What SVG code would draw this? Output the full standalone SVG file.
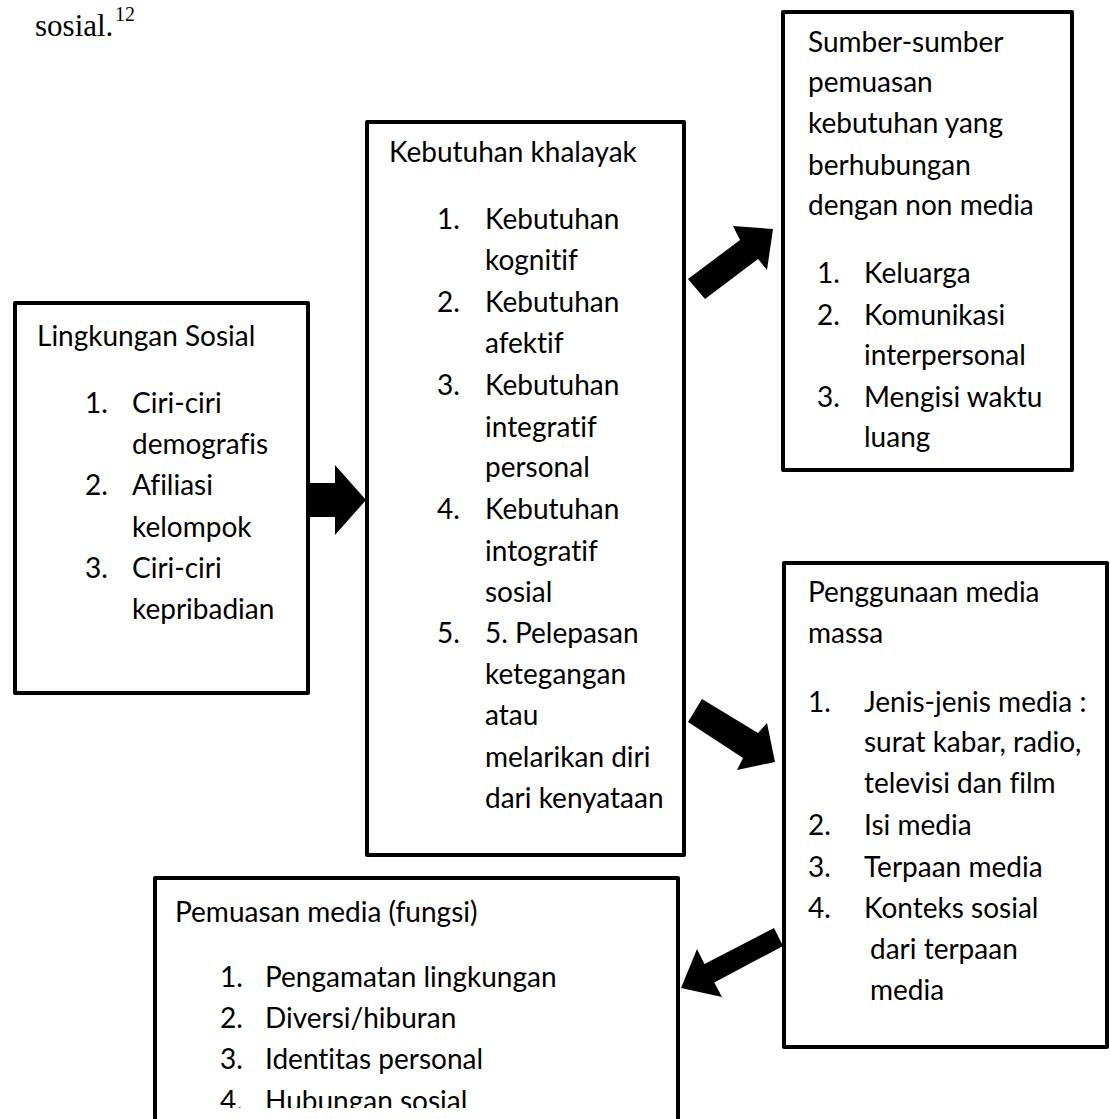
<svg xmlns="http://www.w3.org/2000/svg" width="1110" height="1119" viewBox="0 0 1110 1119">
<style>
.box{fill:#fff;stroke:#000;stroke-width:4;stroke-linejoin:round}
.t{font-family:Lato,"Open Sans","Liberation Sans",sans-serif;font-size:28px;fill:#000;font-variant-ligatures:none;font-feature-settings:"liga" 0,"dlig" 0}
.arr{fill:#000;stroke:none}
.hdr{font-family:"Liberation Serif","Times New Roman",serif;fill:#000}
</style>
<defs>
<clipPath id="cutBottom"><rect x="150" y="870" width="540" height="238"/></clipPath>
</defs>
<rect width="1110" height="1119" fill="#fff"/>
<text class="hdr" x="35" y="36" font-size="31">sosial.</text>
<text class="hdr" x="115" y="21" font-size="20">12</text>

<g id="node-lingkungan">
<rect class="box" x="15" y="303" width="293" height="390"/>
<text class="t" x="37" y="346">Lingkungan Sosial</text>
<text class="t" x="85" y="413">1.</text><text class="t" x="132" y="413">Ciri-ciri</text>
<text class="t" x="132" y="454">demografis</text>
<text class="t" x="85" y="495">2.</text><text class="t" x="132" y="495">Afiliasi</text>
<text class="t" x="132" y="537">kelompok</text>
<text class="t" x="85" y="578">3.</text><text class="t" x="132" y="578">Ciri-ciri</text>
<text class="t" x="132" y="619">kepribadian</text>
</g>

<g id="node-kebutuhan">
<rect class="box" x="367" y="122" width="317" height="733"/>
<text class="t" x="389" y="162">Kebutuhan khalayak</text>
<text class="t" x="437" y="229">1.</text><text class="t" x="485" y="229">Kebutuhan</text>
<text class="t" x="485" y="270">kognitif</text>
<text class="t" x="437" y="312">2.</text><text class="t" x="485" y="312">Kebutuhan</text>
<text class="t" x="485" y="353">afektif</text>
<text class="t" x="437" y="395">3.</text><text class="t" x="485" y="395">Kebutuhan</text>
<text class="t" x="485" y="437">integratif</text>
<text class="t" x="485" y="477">personal</text>
<text class="t" x="437" y="519">4.</text><text class="t" x="485" y="519">Kebutuhan</text>
<text class="t" x="485" y="561">intogratif</text>
<text class="t" x="485" y="602">sosial</text>
<text class="t" x="437" y="643">5.</text><text class="t" x="485" y="643">5. Pelepasan</text>
<text class="t" x="485" y="684">ketegangan</text>
<text class="t" x="485" y="725">atau</text>
<text class="t" x="485" y="767">melarikan diri</text>
<text class="t" x="485" y="808">dari kenyataan</text>
</g>

<g id="node-sumber">
<rect class="box" x="783" y="12" width="289" height="458"/>
<text class="t" x="808" y="52">Sumber-sumber</text>
<text class="t" x="808" y="92">pemuasan</text>
<text class="t" x="808" y="133">kebutuhan yang</text>
<text class="t" x="808" y="175">berhubungan</text>
<text class="t" x="808" y="215">dengan non media</text>
<text class="t" x="817" y="283">1.</text><text class="t" x="864" y="283">Keluarga</text>
<text class="t" x="817" y="325">2.</text><text class="t" x="864" y="325">Komunikasi</text>
<text class="t" x="864" y="365">interpersonal</text>
<text class="t" x="817" y="407">3.</text><text class="t" x="864" y="407">Mengisi waktu</text>
<text class="t" x="864" y="447">luang</text>
</g>

<g id="node-penggunaan">
<rect class="box" x="784" y="563" width="323" height="484"/>
<text class="t" x="808" y="602">Penggunaan media</text>
<text class="t" x="808" y="643">massa</text>
<text class="t" x="808" y="712">1.</text><text class="t" x="864" y="712">Jenis-jenis media :</text>
<text class="t" x="864" y="752">surat kabar, radio,</text>
<text class="t" x="864" y="793">televisi dan film</text>
<text class="t" x="808" y="835">2.</text><text class="t" x="864" y="835">Isi media</text>
<text class="t" x="808" y="877">3.</text><text class="t" x="864" y="877">Terpaan media</text>
<text class="t" x="808" y="918">4.</text><text class="t" x="864" y="918">Konteks sosial</text>
<text class="t" x="870" y="959">dari terpaan</text>
<text class="t" x="870" y="1000">media</text>
</g>

<g id="node-pemuasan">
<rect class="box" x="155" y="878" width="523" height="260"/>
<text class="t" x="175" y="922">Pemuasan media (fungsi)</text>
<text class="t" x="220" y="987">1.</text><text class="t" x="265" y="987">Pengamatan lingkungan</text>
<text class="t" x="220" y="1028">2.</text><text class="t" x="265" y="1028">Diversi/hiburan</text>
<text class="t" x="220" y="1069">3.</text><text class="t" x="265" y="1069">Identitas personal</text>
<g clip-path="url(#cutBottom)">
<text class="t" x="220" y="1111">4.</text><text class="t" x="265" y="1111">Hubungan sosial</text>
</g>
</g>

<g id="connectors">
<polygon class="arr" points="308,483 335,483 335,465 366,500 335,535 335,517 308,517"/>
<polygon class="arr" points="688,279 740,240 733,226 773,229 767,270 758,259 705,299"/>
<polygon class="arr" points="702,699 758,733 767,723 775,762 737,770 743,758 688,722"/>
<polygon class="arr" points="774,928 704.5,964 697,949 681,988 722,997 714.3,982.5 783,946"/>
</g>
</svg>
